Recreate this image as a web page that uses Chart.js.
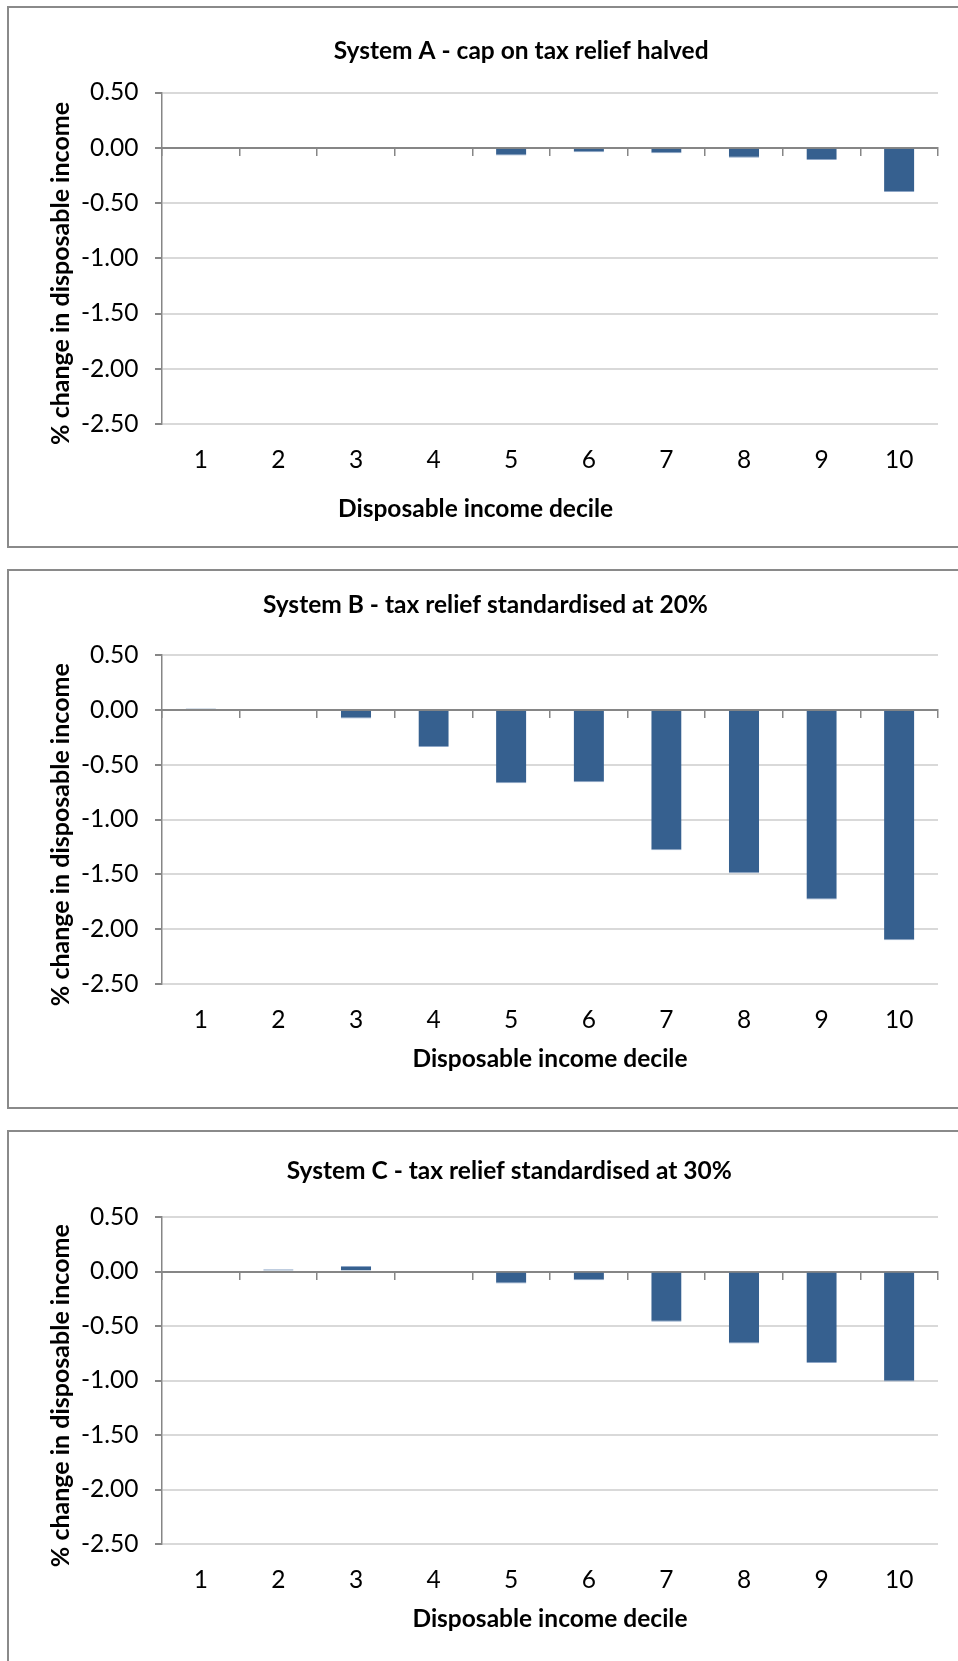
<!DOCTYPE html>
<html>
<head>
<meta charset="utf-8">
<title>Tax relief systems by disposable income decile</title>
<script src="https://cdn.jsdelivr.net/npm/chart.js@4.4.0/dist/chart.umd.min.js"></script>
<style>
    html, body {
        margin: 0;
        padding: 0;
        background: #ffffff;
        overflow: hidden;
    }
    .frame {
        position: absolute;
        left: 7px;
        width: 962px;
        border: 2px solid #8a8a8a;
        box-sizing: border-box;
        background: #ffffff;
    }
    .frame canvas {
        position: absolute;
        left: 0;
        top: 0;
    }
</style>
</head>
<body>

<div class="frame" id="frameA" style="top: 6px; height: 542px;">
    <canvas id="chartA"></canvas>
</div>
<div class="frame" id="frameB" style="top: 569px; height: 540px;">
    <canvas id="chartB"></canvas>
</div>
<div class="frame" id="frameC" style="top: 1130px; height: 539px;">
    <canvas id="chartC"></canvas>
</div>

<script>
// Deciles on the x axis
const deciles = ['1', '2', '3', '4', '5', '6', '7', '8', '9', '10'];

// % change in disposable income
const systemA = [0, 0, 0, 0, -0.07, -0.04, -0.05, -0.09, -0.11, -0.40];
const systemB = [0.015, 0, -0.08, -0.34, -0.67, -0.66, -1.28, -1.49, -1.73, -2.10];
const systemC = [0, 0.02, 0.05, -0.01, -0.11, -0.08, -0.46, -0.66, -0.84, -1.01];

// Y axis range shared by all panels
const yMin = -2.5;
const yMax = 0.5;
const yStep = 0.5;

const titles = [
    'System A - cap on tax relief halved',
    'System B - tax relief standardised at 20%',
    'System C - tax relief standardised at 30%'
];
const yTitle = '% change in disposable income';
const xTitle = 'Disposable income decile';

const fontFamily = 'Lato, "Open Sans", sans-serif';
const barColor = '#36608f';
const barEdge = '#8ea6c6';
const axisColor = '#868686';
const gridColor = '#d9d9d9';

// Excel puts some titles off-centre; pad with no-break spaces so the
// centred text lands where it should (px > 0 moves it back, px < 0 forward)
const measureCtx = document.createElement('canvas').getContext('2d');
function shiftText(text, size, px) {
    measureCtx.font = 'bold ' + size + 'px ' + fontFamily;
    const w = measureCtx.measureText('\u00A0').width;
    const pad = '\u00A0'.repeat(Math.round(2 * Math.abs(px) / w));
    return px >= 0 ? text + pad : pad + text;
}

// Build one panel. box holds the canvas size and the space for title / axes
function makePanel(canvasId, title, values, box) {
    const canvas = document.getElementById(canvasId);
    canvas.width = box.width;
    canvas.height = box.height;
    canvas.style.width = box.width + 'px';
    canvas.style.height = box.height + 'px';

    return new Chart(canvas.getContext('2d'), {
        type: 'bar',
        data: {
            labels: deciles,
            datasets: [{
                label: title,
                data: values,
                backgroundColor: barColor,
                borderColor: barEdge,
                borderWidth: function (context) {
                    const v = context.raw;
                    if (v < 0) {
                        return { top: 0, left: 0, right: 0, bottom: 1 };
                    }
                    return { top: 1, left: 0, right: 0, bottom: 0 };
                },
                borderSkipped: false,
                barPercentage: 0.39,
                categoryPercentage: 1.0
            }]
        },
        options: {
            responsive: false,
            animation: false,
            layout: {
                padding: { left: 0, right: 20, top: 0, bottom: 0 }
            },
            plugins: {
                legend: { display: false },
                tooltip: { enabled: false },
                title: {
                    display: true,
                    text: shiftText(title, 24.5, -box.titleShift),
                    color: '#000000',
                    font: { family: fontFamily, size: 24.5, weight: 'bold', lineHeight: 1.2 },
                    padding: { top: box.titleTop, bottom: box.titleBottom }
                }
            },
            scales: {
                // labels sit below the plot, Excel "low" position
                x: {
                    type: 'category',
                    position: 'bottom',
                    offset: true,
                    grid: { display: false },
                    border: { display: false },
                    ticks: {
                        color: '#000000',
                        padding: 13,
                        maxRotation: 0,
                        font: { family: fontFamily, size: 24.5 }
                    },
                    title: {
                        display: true,
                        text: shiftText(xTitle, 24.5, box.xTitleShift),
                        color: '#000000',
                        font: { family: fontFamily, size: 24.5, weight: 'bold', lineHeight: 1.2 },
                        padding: { top: 0, bottom: box.xTitleBottom }
                    },
                    afterFit: function (scale) {
                        scale.height = box.xAxisHeight;
                    }
                },
                // the horizontal axis line crossing at zero, with tick marks
                x2: {
                    type: 'category',
                    axis: 'x',
                    position: { y: 0 },
                    offset: true,
                    grid: {
                        offset: true,
                        drawOnChartArea: false,
                        drawTicks: true,
                        tickLength: 7,
                        tickColor: axisColor,
                        lineWidth: 1.5
                    },
                    border: { display: true, color: axisColor, width: 2 },
                    ticks: { display: false }
                },
                y: {
                    min: yMin,
                    max: yMax,
                    grid: {
                        color: gridColor,
                        lineWidth: 2,
                        tickLength: 7,
                        tickColor: axisColor
                    },
                    border: { display: true, color: axisColor, width: 1.5 },
                    ticks: {
                        stepSize: yStep,
                        color: '#000000',
                        padding: 16.5,
                        font: { family: fontFamily, size: 24.5 },
                        callback: function (value) {
                            return Number(value).toFixed(2);
                        }
                    },
                    title: {
                        display: true,
                        text: shiftText(yTitle, 25, 16),
                        color: '#000000',
                        font: { family: fontFamily, size: 25, weight: 'bold', lineHeight: 1.2 },
                        padding: { top: 37, bottom: 0 }
                    },
                    afterFit: function (scale) {
                        scale.width = 153;
                    }
                }
            }
        }
    });
}

const chartA = makePanel('chartA', titles[0], systemA, {
    width: 949, height: 538, titleShift: 46.5,
    titleTop: 28.3, titleBottom: 26.8,
    xAxisHeight: 122, xTitleBottom: 21.8, xTitleShift: 75
});

const chartB = makePanel('chartB', titles[1], systemB, {
    width: 949, height: 536, titleShift: 12,
    titleTop: 19.3, titleBottom: 35.3,
    xAxisHeight: 123, xTitleBottom: 33.3, xTitleShift: 0
});

const chartC = makePanel('chartC', titles[2], systemC, {
    width: 949, height: 535, titleShift: 35,
    titleTop: 24.3, titleBottom: 31.3,
    xAxisHeight: 123, xTitleBottom: 33.3, xTitleShift: 0
});
</script>
</body>
</html>
